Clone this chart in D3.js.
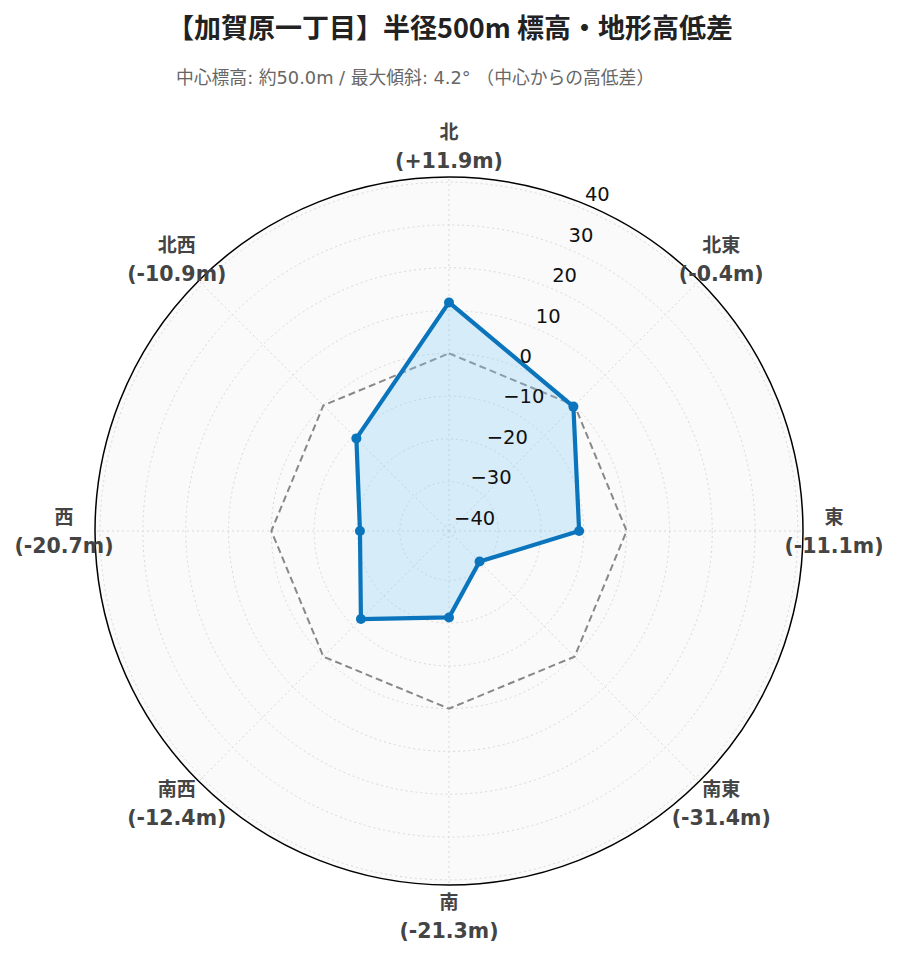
<!DOCTYPE html>
<html>
<head>
<meta charset="utf-8">
<script src="https://cdn.jsdelivr.net/npm/d3@7/dist/d3.min.js"></script>
<style>
  html, body { margin: 0; padding: 0; background: #ffffff; }
  svg { display: block; }
</style>
</head>
<body>
<svg id="chart" width="899" height="962"></svg>
<script>
// ---- Data ----
const directions = ["北", "北東", "東", "南東", "南", "南西", "西", "北西"];
const elevationDiffs = [11.9, -0.4, -11.1, -31.4, -21.3, -12.4, -20.7, -10.9];
const referenceValues = [0, 0, 0, 0, 0, 0, 0, 0];
const radialTicks = [-40, -30, -20, -10, 0, 10, 20, 30, 40];
const radialDomain = [-41.5, 41.2];
const titleText = "【加賀原一丁目】半径500m 標高・地形高低差";
const subtitleText = "中心標高: 約50.0m / 最大傾斜: 4.2° （中心からの高低差）";

// ---- Layout ----
const W = 899, H = 962;
const cx = 449, cy = 531, R = 354;
const svg = d3.select("#chart");

const rScale = d3.scaleLinear().domain(radialDomain).range([0, R]);
const angle = d3.scaleLinear().domain([0, directions.length]).range([0, 2 * Math.PI]);
const px = (a, r) => cx + r * Math.sin(a);
const py = (a, r) => cy - r * Math.cos(a);

// Title (left aligned)
svg.append("text")
  .attr("x", 167).attr("y", 38)
  .attr("text-anchor", "start")
  .style("font-family", "'Noto Sans CJK JP', 'Noto Sans', sans-serif")
  .style("font-weight", "bold")
  .style("font-size", "27px")
  .style("fill", "#222")
  .text(titleText);

svg.append("text")
  .attr("x", 176).attr("y", 84)
  .attr("text-anchor", "start")
  .style("font-family", "'DejaVu Sans', 'Noto Sans CJK JP', sans-serif")
  .style("font-size", "17.8px")
  .style("fill", "#666")
  .text(subtitleText);

// Polar background
const g = svg.append("g");
g.append("circle").attr("cx", cx).attr("cy", cy).attr("r", R)
  .attr("fill", "#fafafa");

// Grid circles
g.selectAll("circle.grid").data(radialTicks).enter()
  .append("circle").attr("class", "grid")
  .attr("cx", cx).attr("cy", cy)
  .attr("r", d => rScale(d))
  .attr("fill", "none")
  .attr("stroke", "#d8d8d8")
  .attr("stroke-width", 1)
  .attr("stroke-dasharray", "2,3");

// Spokes
g.selectAll("line.spoke").data(directions).enter()
  .append("line").attr("class", "spoke")
  .attr("x1", cx).attr("y1", cy)
  .attr("x2", (d, i) => px(angle(i), R))
  .attr("y2", (d, i) => py(angle(i), R))
  .attr("stroke", "#d8d8d8")
  .attr("stroke-width", 1)
  .attr("stroke-dasharray", "2,3");

// Reference dashed polygon (0 m)
const refPts = referenceValues.map((v, i) => [px(angle(i), rScale(v)), py(angle(i), rScale(v))]);
g.append("path")
  .attr("d", d3.line()(refPts) + "Z")
  .attr("fill", "none")
  .attr("stroke", "#888")
  .attr("stroke-width", 2)
  .attr("stroke-dasharray", "7,4");

// Data polygon
const pts = elevationDiffs.map((v, i) => [px(angle(i), rScale(v)), py(angle(i), rScale(v))]);
g.append("path")
  .attr("d", d3.line()(pts) + "Z")
  .attr("fill", "rgba(135,206,250,0.3)")
  .attr("stroke", "#0a75bc")
  .attr("stroke-width", 4.2)
  .attr("stroke-linejoin", "round");

g.selectAll("circle.pt").data(pts).enter()
  .append("circle").attr("class", "pt")
  .attr("cx", d => d[0]).attr("cy", d => d[1])
  .attr("r", 5)
  .attr("fill", "#0a75bc");

// Outer border
g.append("circle").attr("cx", cx).attr("cy", cy).attr("r", R)
  .attr("fill", "none").attr("stroke", "#000").attr("stroke-width", 1.5);

// Radial tick labels
const tickAngle = 22 * Math.PI / 180;
const fmt = d3.format("d");
g.selectAll("text.rtick").data(radialTicks).enter()
  .append("text").attr("class", "rtick")
  .attr("x", d => px(tickAngle, rScale(d) * 1.02 + 7))
  .attr("y", d => py(tickAngle, rScale(d) * 1.02 + 7))
  .attr("text-anchor", "start")
  .attr("dominant-baseline", "central")
  .style("font-family", "'DejaVu Sans', Verdana, sans-serif")
  .style("font-size", "19.5px")
  .style("fill", "#111")
  .text(d => fmt(d));

// Direction labels
const labelR = 385;
const signFmt = v => (v > 0 ? "+" : v < 0 ? "-" : "") + Math.abs(v).toFixed(1);
const lab = g.selectAll("g.dir").data(directions).enter()
  .append("g").attr("class", "dir")
  .attr("transform", (d, i) => `translate(${px(angle(i), labelR)},${py(angle(i), labelR)})`);
lab.append("text")
  .attr("y", -14).attr("text-anchor", "middle").attr("dominant-baseline", "central")
  .style("font-family", "'DejaVu Sans', 'Noto Sans CJK JP', sans-serif")
  .style("font-weight", "bold").style("font-size", "19px").style("fill", "#444")
  .text(d => d);
lab.append("text")
  .attr("y", 15).attr("text-anchor", "middle").attr("dominant-baseline", "central")
  .style("font-family", "'DejaVu Sans', 'Noto Sans CJK JP', sans-serif")
  .style("font-weight", "bold").style("font-size", "20.5px").style("fill", "#444")
  .text((d, i) => `(${signFmt(elevationDiffs[i])}m)`);
</script>
</body>
</html>
